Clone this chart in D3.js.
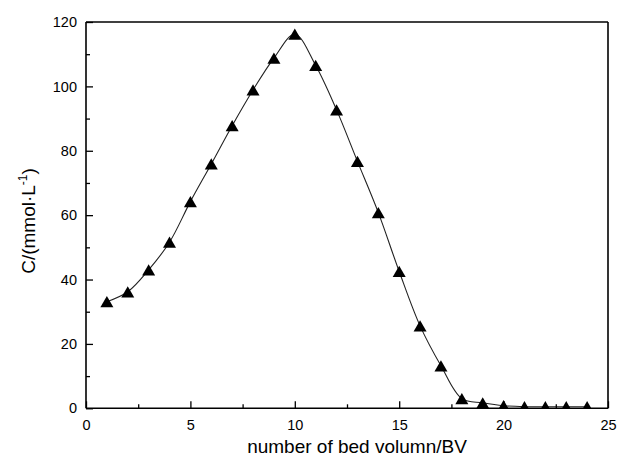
<!DOCTYPE html>
<html>
<head>
<meta charset="utf-8">
<script src="https://cdn.jsdelivr.net/npm/d3@7/dist/d3.min.js"></script>
<style>
  html, body { margin: 0; padding: 0; background: #fff; }
  svg { display: block; }
  text { font-family: "Liberation Sans", Arial, sans-serif; fill: #000; }
</style>
</head>
<body>
<svg id="chart" width="617" height="461"></svg>
<script>
// ---- data ----
const bedVolumes = [1, 2, 3, 4, 5, 6, 7, 8, 9, 10, 11, 12, 13, 14, 15, 16, 17, 18, 19, 20, 21, 22, 23, 24];
const concentration = [33.1, 36.2, 43.0, 51.6, 64.2, 75.9, 87.8, 98.9, 108.8, 116.2, 106.5, 92.7, 76.7, 60.8, 42.5, 25.6, 13.2, 3.0, 1.7, 0.8, 0.5, 0.5, 0.5, 0.5];
const xMajorTicks = [0, 5, 10, 15, 20, 25];
const xMinorTicks = [2.5, 7.5, 12.5, 17.5, 22.5];
const yMajorTicks = [0, 20, 40, 60, 80, 100, 120];
const yMinorTicks = [10, 30, 50, 70, 90, 110];
const xTitle = "number of bed volumn/BV";

// ---- layout ----
const W = 617, H = 461;
const margin = { left: 86, top: 22, right: W - 608, bottom: H - 408.3 };
const iw = W - margin.left - margin.right;
const ih = H - margin.top - margin.bottom;

const svg = d3.select("#chart");
const g = svg.append("g").attr("transform", `translate(${margin.left},${margin.top})`);

const x = d3.scaleLinear().domain([0, 25]).range([0, iw]);
const y = d3.scaleLinear().domain([0, 120]).range([ih, 0]);

svg.append("defs").append("clipPath").attr("id", "plotClip")
  .append("rect").attr("x", 0).attr("y", 0).attr("width", iw).attr("height", ih);

const data = bedVolumes.map((b, i) => ({ x: b, y: concentration[i] }));

// ---- series ----
const plot = g.append("g").attr("clip-path", "url(#plotClip)");

const line = d3.line()
  .x(d => x(d.x))
  .y(d => y(d.y))
  .curve(d3.curveCatmullRom.alpha(0.5));

plot.append("path")
  .datum(data)
  .attr("fill", "none")
  .attr("stroke", "#222")
  .attr("stroke-width", 1.1)
  .attr("d", line);

const side = 13;
const triArea = side * side * Math.sqrt(3) / 4;
const triH = side * Math.sqrt(3) / 2;
const sym = d3.symbol().type(d3.symbolTriangle).size(triArea);

plot.selectAll("path.marker")
  .data(data)
  .join("path")
  .attr("class", "marker")
  .attr("d", sym)
  .attr("fill", "#000")
  .attr("transform", d => `translate(${x(d.x)},${y(d.y) + triH / 6})`);

// ---- axes ----
const axisStroke = 1.6;
function styleAxis(sel) {
  sel.select(".domain").remove();
  sel.selectAll(".tick line").attr("stroke", "#000").attr("stroke-width", 1.3);
  sel.selectAll(".tick text")
    .style("font-family", '"Liberation Sans", Arial, sans-serif')
    .style("font-size", "14.5px")
    .attr("fill", "#000");
}

const xAxis = g.append("g").attr("transform", `translate(0,${ih})`)
  .call(d3.axisBottom(x).tickValues(xMajorTicks).tickFormat(d3.format("d")).tickSize(-7).tickPadding(11));
styleAxis(xAxis);
xAxis.selectAll(".tick text").attr("y", 11);

const xMinor = g.append("g").attr("transform", `translate(0,${ih})`)
  .call(d3.axisBottom(x).tickValues(xMinorTicks).tickFormat("").tickSize(-4));
styleAxis(xMinor);

const yAxis = g.append("g")
  .call(d3.axisLeft(y).tickValues(yMajorTicks).tickFormat(d3.format("d")).tickSize(-7).tickPadding(9));
styleAxis(yAxis);

const yMinor = g.append("g")
  .call(d3.axisLeft(y).tickValues(yMinorTicks).tickFormat("").tickSize(-4));
styleAxis(yMinor);

// frame (axis lines + box)
const frame = g.append("g").attr("fill", "none").attr("stroke", "#000").attr("stroke-width", axisStroke);
frame.append("line").attr("x1", 0).attr("x2", iw).attr("y1", ih).attr("y2", ih);
frame.append("line").attr("x1", 0).attr("x2", 0).attr("y1", 0).attr("y2", ih);
frame.append("line").attr("x1", 0).attr("x2", iw).attr("y1", 0).attr("y2", 0);
frame.append("line").attr("x1", iw).attr("x2", iw).attr("y1", 0).attr("y2", ih);

// ---- titles ----
svg.append("text")
  .attr("x", 357)
  .attr("y", 453)
  .attr("text-anchor", "middle")
  .style("font-size", "19px")
  .text(xTitle);

const yt = svg.append("text")
  .attr("transform", "translate(35,221) rotate(-90)")
  .attr("text-anchor", "middle")
  .style("font-size", "19px");
yt.append("tspan").text("C/(mmol\u00B7L");
yt.append("tspan").attr("dy", -8).style("font-size", "12px").text("-1");
yt.append("tspan").attr("dy", 8).text(")");
</script>
</body>
</html>
